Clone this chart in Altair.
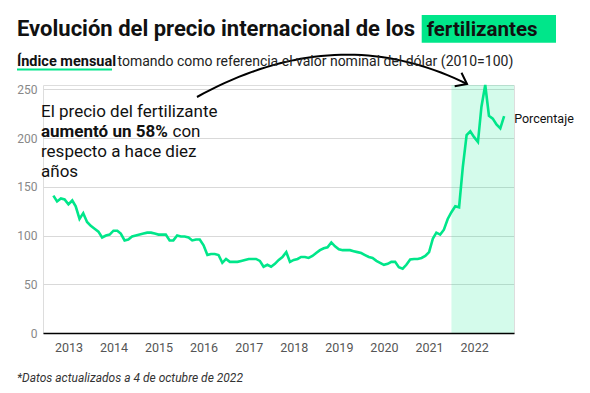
import altair as alt
import pandas as pd
import numpy as np

# Índice mensual de precios de fertilizantes (2010=100), sep 2012 – sep 2022
v2012 = [141, 135, 138, 137]                                   # sep–dic
v2013 = [132, 136, 130, 117, 123, 114, 110, 107, 104, 98, 100, 101]
v2014 = [105, 105, 102, 95, 96, 99, 100, 101, 102, 103, 103, 102]
v2015 = [101, 101, 101, 95, 95, 100, 99, 99, 98, 95, 96, 96]
v2016 = [90, 80, 81, 81, 80, 72, 76, 73, 73, 73, 74, 75]
v2017 = [76, 76, 76, 74, 68, 70, 68, 71, 75, 78, 83, 73]
v2018 = [75, 76, 78, 78, 77, 79, 82, 85, 87, 88, 93, 89]
v2019 = [86, 85, 85, 85, 84, 83, 82, 80, 78, 77, 74, 72]
v2020 = [70, 71, 73, 73, 67.5, 66, 70, 75.5, 76, 76, 77, 79]
v2021 = [83, 97, 103, 101, 106, 117, 124, 130, 129, 170, 203, 207]
v2022 = [201, 196, 232, 254.5, 223, 220, 214, 210, 222.5]      # ene–sep

values = v2012 + v2013 + v2014 + v2015 + v2016 + v2017 + v2018 + v2019 + v2020 + v2021 + v2022
dates = pd.date_range("2012-09-01", periods=len(values), freq="MS")
df = pd.DataFrame({"fecha": dates, "valor": values})

years = list(range(2013, 2023))
y_ticks = [0, 50, 100, 150, 200, 250]
series_label = "Porcentaje"
shade_start = "2021-07-01"

GREEN = "#00e68a"
W, H = 471, 248
X0, Y0 = 43, 85  # plot origin on page
d_start = pd.Timestamp("2012-06-09")
d_end = pd.Timestamp("2022-11-20")
Y_MAX = 254.5

xscale = alt.Scale(domain=[alt.DateTime(year=2012, month=6, date=9),
                           alt.DateTime(year=2022, month=11, date=20)])
yscale = alt.Scale(domain=[0, Y_MAX], nice=False)

base = alt.Chart(df)

shade = alt.Chart(pd.DataFrame({"a": [pd.Timestamp(shade_start)], "b": [d_end]})).mark_rect(
    color=GREEN, opacity=0.17
).encode(
    x=alt.X("a:T", scale=xscale),
    x2="b:T",
    y=alt.value(0),
    y2=alt.value(H),
)

line = base.mark_line(color=GREEN, strokeWidth=2.6).encode(
    x=alt.X("fecha:T", scale=xscale, title=None,
            axis=alt.Axis(values=[alt.DateTime(year=y, month=1, date=1) for y in years],
                          format="%Y", ticks=False, tickSize=0, grid=False,
                          domainColor="#000000", domainWidth=1.6, labelColor="#555555",
                          labelFont="Roboto", labelFontSize=12.5, labelPadding=8,
                          zindex=1)),
    y=alt.Y("valor:Q", scale=yscale, title=None,
            axis=alt.Axis(values=y_ticks, ticks=False, tickSize=0, domain=False,
                          gridColor="#d9d9d9", gridWidth=1, labelColor="#888888",
                          labelFont="Roboto", labelFontSize=12, labelPadding=6)),
)

last = df.tail(1).assign(lbl=series_label)
end_label = alt.Chart(last).mark_text(
    align="left", baseline="middle", dx=10, dy=3, font="Roboto", fontSize=12.5, color="#111111"
).encode(x=alt.X("fecha:T", scale=xscale), y=alt.Y("valor:Q", scale=yscale), text="lbl:N")


def px2date(ax):
    return d_start + (ax - X0) / W * (d_end - d_start)


def py2val(ay):
    return (Y0 + H - ay) / H * Y_MAX


# curved annotation arrow (quadratic bezier, page pixel control points)
P0, P1, P2 = np.array([197, 97.0]), np.array([337, 19.5]), np.array([467, 84.0])
t = np.linspace(0, 1, 41)
pts = [(1 - s) ** 2 * P0 + 2 * (1 - s) * s * P1 + s ** 2 * P2 for s in t]
arrow_df = pd.DataFrame({
    "t": t,
    "fecha": [px2date(p[0]) for p in pts],
    "valor": [py2val(p[1]) for p in pts],
})
arrow = alt.Chart(arrow_df).mark_line(color="#000000", strokeWidth=2).encode(
    x=alt.X("fecha:T", scale=xscale), y=alt.Y("valor:Q", scale=yscale), order="t:Q"
)
head_df = pd.DataFrame({"fecha": [px2date(P2[0])], "valor": [py2val(P2[1])]})
head = alt.Chart(head_df).mark_point(
    shape="M-1,-0.75L0,0L-1,0.75", size=400, filled=False, stroke="#000000",
    strokeWidth=2, angle=27, opacity=1
).encode(x=alt.X("fecha:T", scale=xscale), y=alt.Y("valor:Q", scale=yscale))

one = pd.DataFrame({"k": [0]})


def txt(s, x, y, size, weight="normal", style="normal", color="#111111", align="left"):
    return alt.Chart(one).mark_text(
        text=s, align=align, baseline="alphabetic", font="Roboto", fontSize=size,
        fontWeight=weight, fontStyle=style, color=color
    ).encode(x=alt.value(x - X0), y=alt.value(y - Y0))


def box(x1, x2, y1, y2, color):
    return alt.Chart(one).mark_rect(color=color).encode(
        x=alt.value(x1 - X0), x2=alt.value(x2 - X0), y=alt.value(y1 - Y0), y2=alt.value(y2 - Y0)
    )


title_box = box(421.7, 556, 15, 42.7, GREEN)
title1 = txt("Evolución del precio internacional de los", 17, 36, 22, weight="bold")
title2 = txt("fertilizantes", 426.7, 36, 20.5, weight="bold")
sub1 = txt("Índice mensual", 17, 66, 14.5, weight="bold")
sub2 = txt("tomando como referencia el valor nominal del dólar (2010=100)", 117.5, 66, 14, color="#222222")
underline = box(17, 112, 68.5, 70.5, GREEN)

ann1 = txt("El precio del fertilizante", 41, 116.7, 17)
ann2a = txt("aumentó un 58%", 41, 136.7, 17, weight="bold")
ann2b = txt("con", 172.5, 136.7, 17)
ann3 = txt("respecto a hace diez", 41, 157.3, 17)
ann4 = txt("años", 41, 177, 17)
foot = txt("*Datos actualizados a 4 de octubre de 2022", 17, 381.5, 12, style="italic", color="#333333")

chart = alt.layer(
    shade, line, end_label, arrow, head,
    title_box, title1, title2, sub1, sub2, underline,
    ann1, ann2a, ann2b, ann3, ann4, foot,
).properties(
    width=W, height=H,
    autosize=alt.AutoSizeParams(type="none"),
    padding={"left": X0 - 8, "top": Y0 - 8, "right": 60, "bottom": 53},
).configure_view(stroke=None).configure(background="#ffffff")

chart.save("out.html", embed_options={"renderer": "svg", "actions": False})
